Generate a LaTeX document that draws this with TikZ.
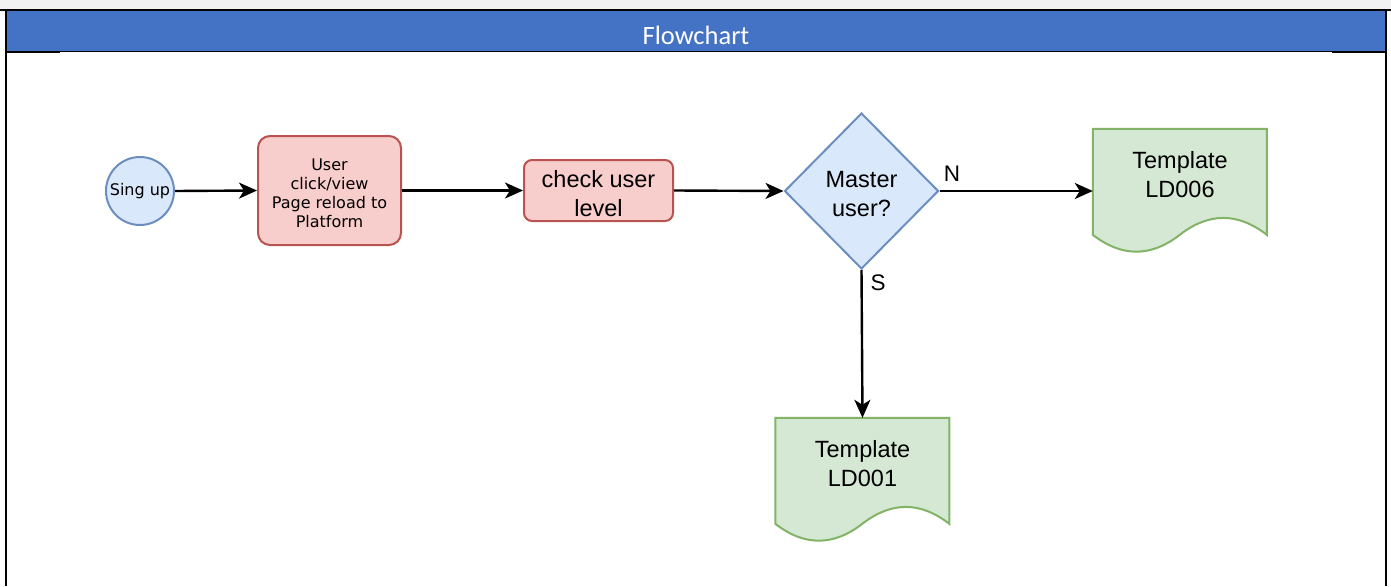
\documentclass[tikz,border=0pt]{standalone}
\usepackage{fontspec}
\setmainfont{Liberation Sans}
\newfontfamily\dejavu{DejaVu Sans}
\newfontfamily\carlito{Carlito}
\usetikzlibrary{shapes.geometric,arrows.meta}
\definecolor{hdrblue}{HTML}{4472C4}
\definecolor{topgray}{HTML}{F2F2F2}
\definecolor{redfill}{HTML}{F8CECC}
\definecolor{redline}{HTML}{B85450}
\definecolor{bluefill}{HTML}{DAE8FC}
\definecolor{blueline}{HTML}{6C8EBF}
\definecolor{greenfill}{HTML}{D5E8D4}
\definecolor{greenline}{HTML}{82B366}
\tikzset{
  redbox/.style={draw=redline,fill=redfill,line width=2pt,align=center,inner sep=0pt},
  bluebox/.style={draw=blueline,fill=bluefill,line width=2pt,align=center,inner sep=0pt},
  docbox/.style={draw=greenline,fill=greenfill,line width=2pt},
  bigtext/.style={align=center,font=\fontsize{23.5}{29}\selectfont,inner sep=0pt},
  conn/.style={line width=2.4pt,-{Stealth[length=18pt,width=16pt,inset=5pt]}},
  lbl/.style={font=\fontsize{22.5}{24}\selectfont,inner sep=0pt}
}
\begin{document}
\begin{tikzpicture}[x=1pt,y=-1pt]
\useasboundingbox (0,0) rectangle (1391,586);
% page frame and header
\fill[white] (0,0) rectangle (1391,586);
\fill[topgray] (0,0) rectangle (1391,9.5);
\fill[hdrblue] (6,10) rectangle (1386,51.5);
\node[text=white,font=\carlito\fontsize{26.5}{28}\selectfont] (title) at (696,35) {Flowchart};
\draw[line width=1.8pt] (0,10) -- (1391,10);
\draw[line width=1.8pt] (6,10) -- (6,586);
\draw[line width=1.8pt] (1386,10) -- (1386,586);
\draw[line width=1.2pt] (6,51.5) -- (1386,51.5);
\draw[line width=2.4pt] (6,52) -- (60,52);
\draw[line width=2.4pt] (1332,52) -- (1386,52);
% nodes
\node[bluebox,circle,minimum size=68pt,font=\dejavu\fontsize{16}{18}\selectfont] (signup) at (140,191) {Sing up};
\node[redbox,rounded corners=12pt,minimum width=143pt,minimum height=109pt] (click) at (329.5,190.5) {};
\node[align=center,inner sep=0pt,font=\dejavu\fontsize{16}{19}\selectfont] (clicktext) at (329.5,193) {User\\click/view\\Page reload to\\Platform};
\node[redbox,rounded corners=8pt,minimum width=149pt,minimum height=61pt] (check) at (598.5,190.5) {};
\node[bigtext] (checktext) at (598.5,194) {check user\\level};
\node[bluebox,diamond,minimum width=154pt,minimum height=156pt] (master) at (861.5,191) {};
\node[bigtext] (mastertext) at (861.5,194.5) {Master\\user?};
% documents (anchor nodes)
\node[minimum width=174pt,minimum height=124pt,inner sep=0pt] (doc6) at (1180,191) {};
\node[minimum width=174pt,minimum height=124pt,inner sep=0pt] (doc1) at (862.5,480) {};
\begin{scope}[shift={(doc6.north west)}]
\draw[docbox] (0,0) -- (174,0) -- (174,106) .. controls (145,83.5) and (116,83.5) .. (87,106)
  .. controls (58,128.5) and (29,128.5) .. (0,106) -- cycle;
\end{scope}
\begin{scope}[shift={(doc1.north west)}]
\draw[docbox] (0,0) -- (174,0) -- (174,106) .. controls (145,83.5) and (116,83.5) .. (87,106)
  .. controls (58,128.5) and (29,128.5) .. (0,106) -- cycle;
\end{scope}
\node[bigtext] (t6) at (1180,175) {Template\\LD006};
\node[bigtext] (t1) at (862.5,464) {Template\\LD001};
% connectors
\draw[conn] (signup.east) -- (click.west);
\draw[conn] (click.east) -- (check.west);
\draw[conn] (check.east) -- (master.west);
\draw[conn] (master.east) -- (doc6.west);
\draw[conn] (master.south) -- (doc1.north);
\node[lbl] (nlab) at (952,174) {N};
\node[lbl] (slab) at (878,283) {S};
\end{tikzpicture}
\end{document}
